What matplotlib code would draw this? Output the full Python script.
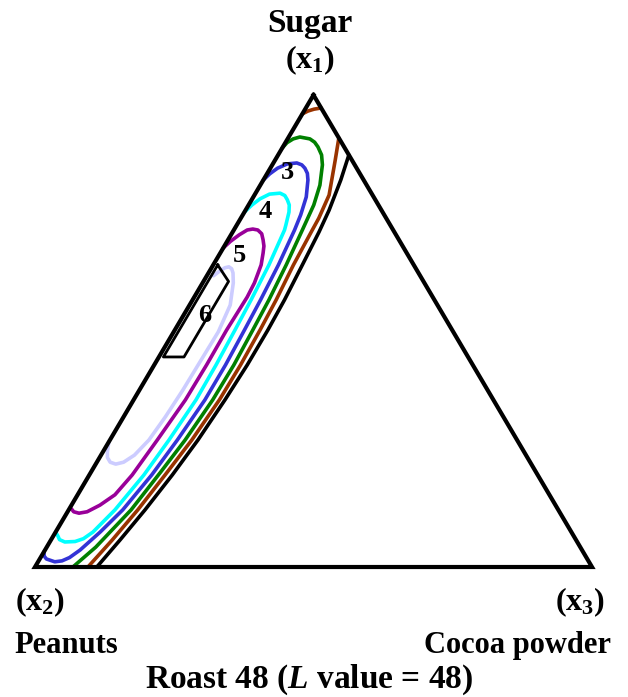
import numpy as np
import matplotlib
matplotlib.use('Agg')
import matplotlib.pyplot as plt

plt.rcParams['font.family'] = 'Liberation Serif'
plt.rcParams['font.weight'] = 'bold'
plt.rcParams['mathtext.fontset'] = 'custom'
plt.rcParams['mathtext.rm'] = 'Liberation Serif:bold'
plt.rcParams['mathtext.bf'] = 'Liberation Serif:bold'
plt.rcParams['mathtext.it'] = 'Liberation Serif:bold:italic'

# contour lines as (sugar x1, cocoa x3) mixture fractions; peanuts x2 = 1 - x1 - x3
black_x1 = [.873, .820, .756, .710, .640, .566, .502, .428, .354, .269, .195, .121, .057, 0.0]
black_x3 = [.127, .139, .150, .155, .160, .165, .167, .167, .164, .158, .149, .137, .124, .111]

brown_x1 = [.909, .862, .788, .739, .710, .640, .566, .502, .428, .354, .269, .195, .121, .057, 0.0]
brown_x3 = [.091, .108, .134, .140, .141, .144, .150, .153, .155, .154, .147, .136, .124, .110, .095]
brown_top_x1 = [.960, .966, .970, .9725]
brown_top_x3 = [0.0, .007, .016, .0275]

green_x1 = [.888, .899, .907, .911, .907, .900, .890, .873, .852, .809, .767, .714, .640, .566,
            .502, .428, .354, .269, .201, .121, .042, 0.0]
green_x3 = [0.0, .003, .010, .020, .040, .052, .063, .078, .090, .107, .117, .123, .131, .137,
            .140, .143, .142, .135, .125, .112, .088, .068]

blue_x1 = [.820, .833, .845, .854, .856, .852, .845, .834, .820, .784, .746, .714, .640, .566,
           .502, .428, .354, .269, .195, .121, .074, .036, .020, .013, .011, .017, .023, .032]
blue_x3 = [0.0, .005, .013, .026, .042, .053, .062, .072, .080, .095, .104, .109, .117, .122,
           .125, .128, .128, .121, .112, .097, .080, .063, .052, .042, .030, .012, .005, 0.0]

cyan_x1 = [.752, .767, .780, .790, .792, .787, .778, .767, .752, .725, .714, .640, .566, .502,
           .428, .354, .269, .195, .121, .074, .060, .054, .053, .058, .066, .074]
cyan_x3 = [0.0, .006, .014, .026, .044, .055, .064, .073, .080, .088, .091, .100, .105, .108,
           .111, .112, .106, .098, .083, .067, .057, .045, .027, .015, .008, 0.0]

purple_x1 = [.676, .690, .704, .714, .716, .714, .706, .693, .680, .665, .640, .602, .572, .502,
             .428, .354, .269, .195, .153, .131, .117, .114, .117, .123]
purple_x3 = [0.0, .006, .015, .024, .033, .043, .054, .063, .071, .077, .086, .093, .095, .093,
             .094, .093, .085, .077, .067, .051, .035, .022, .011, .004]

lavender_x1 = [.617, .627, .634, .636, .632, .623, .602, .555, .498, .439, .375, .318, .269,
               .237, .222, .218, .222, .232, .244, .265]
lavender_x3 = [.012, .018, .024, .030, .037, .044, .055, .073, .080, .079, .078, .075, .070,
               .060, .048, .036, .024, .014, .008, 0.0]

# experimental region (sugar, cocoa)
region_x1 = [.640, .605, .445, .445, .640]
region_x3 = [.008, .045, .045, .008, .008]

contour_labels = ['3', '4', '5', '6']
label_x1 = [.835, .754, .659, .532]
label_x3 = [.035, .036, .037, .039]

H = np.sqrt(3) / 2


def tern(x1, x3):
    x1 = np.asarray(x1, dtype=float)
    x3 = np.asarray(x3, dtype=float)
    return x3 + x1 / 2, x1 * H


fig = plt.figure(figsize=(6.28, 6.97), dpi=100)
ax = fig.add_axes([35 / 628, 130 / 697, 557 / 628, 472 / 697])
ax.set_xlim(0, 1)
ax.set_ylim(0, H)
ax.axis('off')

lines = [
    (black_x1, black_x3, 'black'),
    (brown_x1, brown_x3, '#993300'),
    (brown_top_x1, brown_top_x3, '#993300'),
    (green_x1, green_x3, '#008000'),
    (blue_x1, blue_x3, '#3333d6'),
    (cyan_x1, cyan_x3, '#00ffff'),
    (purple_x1, purple_x3, '#990099'),
    (lavender_x1, lavender_x3, '#ccccff'),
]
for x1, x3, c in lines:
    ax.plot(*tern(x1, x3), color=c, lw=2.6, solid_capstyle='round',
            solid_joinstyle='round', clip_on=False)

ax.plot(*tern(region_x1, region_x3), color='black', lw=2.0)

for lab, x1, x3 in zip(contour_labels, label_x1, label_x3):
    ax.text(*tern(x1, x3), lab, ha='center', va='center', fontsize=19)

# triangle frame
ax.plot(*tern([1, 0, 0, 1], [0, 0, 1, 0]), color='black', lw=3,
        solid_joinstyle='miter', clip_on=False)

fig.text(310 / 628, 1 - 32 / 697, 'Sugar', ha='center', va='baseline', fontsize=24)
fig.text(310 / 628, 1 - 68 / 697, r'(x$_\mathbf{1}$)', ha='center', va='baseline', fontsize=23)
fig.text(40 / 628, 1 - 610 / 697, r'(x$_\mathbf{2}$)', ha='center', va='baseline', fontsize=23)
fig.text(580 / 628, 1 - 610 / 697, r'(x$_\mathbf{3}$)', ha='center', va='baseline', fontsize=23)
fig.text(14 / 628, 1 - 653 / 697, 'Peanuts', ha='left', va='baseline', fontsize=22)
fig.text(611 / 628, 1 - 653 / 697, 'Cocoa powder', ha='right', va='baseline', fontsize=22)
fig.text(309 / 628, 1 - 688 / 697, r'Roast 48 ($L$ value = 48)', ha='center',
         va='baseline', fontsize=24)

fig.savefig('out.png', dpi=100)
